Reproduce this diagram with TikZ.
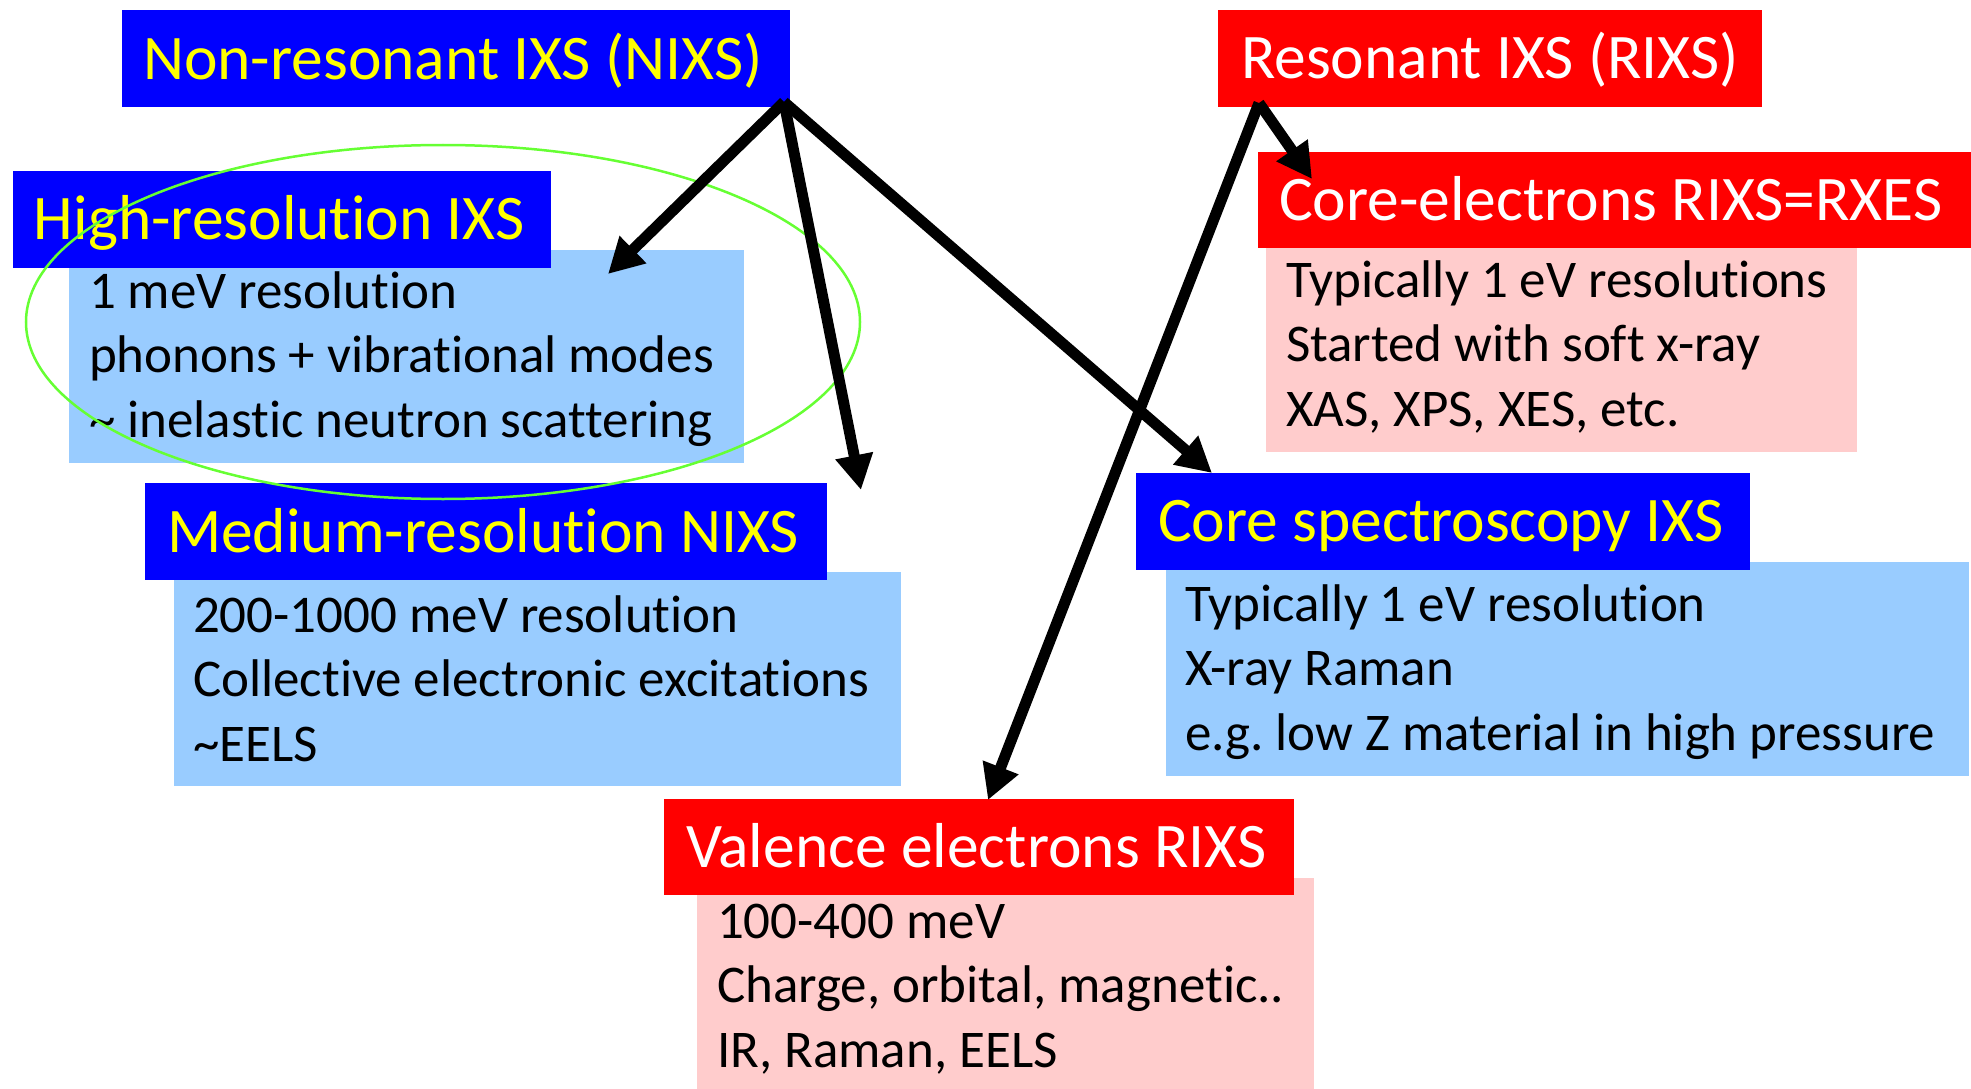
\documentclass[tikz,border=0pt]{standalone}
\usepackage{fontspec}
\setmainfont{Carlito}[Ligatures=NoCommon]
\frenchspacing
\usetikzlibrary{arrows.meta,calc,shapes.geometric}
\definecolor{hdrblue}{RGB}{0,0,255}
\definecolor{hdrred}{RGB}{255,0,0}
\definecolor{hdryellow}{RGB}{255,255,0}
\definecolor{bodyblue}{RGB}{153,204,255}
\definecolor{bodypink}{RGB}{255,204,204}
\definecolor{ringgreen}{RGB}{102,255,51}
% use the font's own interword space inside the panel texts
\newcommand{\natspace}{\spaceskip=0pt\xspaceskip=0pt\relax}
\begin{document}
\begin{tikzpicture}[x=1pt,y=-1pt,
  box/.style={anchor=north west, inner sep=0pt, outer sep=0pt, draw=none},
  nixsbox/.style={box, fill=hdrblue},
  rixsbox/.style={box, fill=hdrred},
  nbody/.style={box, fill=bodyblue},
  rbody/.style={box, fill=bodypink},
  hdrtext/.style={anchor=base west, inner sep=0pt, outer sep=0pt,
    font=\fontsize{63.5}{76}\selectfont},
  ntext/.style={hdrtext, text=hdryellow},
  rtext/.style={hdrtext, text=white},
  bodytext/.style={anchor=base west, inner sep=0pt, outer sep=0pt,
    text width=820pt, font=\fontsize{53}{64.5}\selectfont},
  bigarrow/.style={line width=11pt, -{Triangle[length=35pt,width=36pt]}},
  ring/.style={draw=ringgreen, line width=2.5pt, ellipse, inner sep=0pt}
]
\useasboundingbox (0,0) rectangle (1971,1089);

% body panels (drawn first so the headers overlap them)
\node[nbody, minimum width=675pt, minimum height=213pt] (hrB) at (69,250) {};
\node[nbody, minimum width=727pt, minimum height=214pt] (mB) at (174,572) {};
\node[rbody, minimum width=591pt, minimum height=204pt] (ceB) at (1266,248) {};
\node[nbody, minimum width=803pt, minimum height=214pt] (csB) at (1166,562) {};
\node[rbody, minimum width=617pt, minimum height=211pt] (vB) at (697,878) {};

% header bars
\node[nixsbox, minimum width=668pt, minimum height=97pt] (nixs) at (122,10) {};
\node[rixsbox, minimum width=544pt, minimum height=97pt] (rixs) at (1218,10) {};
\node[nixsbox, minimum width=538pt, minimum height=97pt] (hrH) at (13,171) {};
\node[nixsbox, minimum width=682pt, minimum height=97pt] (mH) at (145,483) {};
\node[rixsbox, minimum width=713pt, minimum height=96pt] (ceH) at (1258,152) {};
\node[nixsbox, minimum width=614pt, minimum height=97pt] (csH) at (1136,473) {};
\node[rixsbox, minimum width=630pt, minimum height=96pt] (vH) at (664,799) {};

% header titles
\node[ntext] (nixsT) at (143,80) {Non-resonant IXS (NIXS)};
\node[rtext] (rixsT) at (1241,79) {Resonant IXS (RIXS)};
\node[ntext] (hrT) at (34,239) {High-resolution IXS};
\node[ntext] (mT) at (167,552) {Medium-resolution NIXS};
\node[rtext] (ceT) at (1279,220) {Core-electrons RIXS=RXES};
\node[ntext] (csT) at (1158,541) {Core spectroscopy IXS};
\node[rtext] (vT) at (686,867) {Valence electrons RIXS};

% panel texts
\node[bodytext] (hrL) at (89,308) {\natspace 1 meV resolution\\phonons + vibrational modes\\\textasciitilde{} inelastic neutron scattering};
\node[bodytext] (mL) at (193,632) {\natspace 200-1000 meV resolution\\Collective electronic excitations\\\textasciitilde{}EELS};
\node[bodytext] (ceL) at (1286,297) {\natspace Typically 1 eV resolutions\\Started with soft x-ray\\XAS, XPS, XES, etc.};
\node[bodytext] (csL) at (1185,621) {\natspace Typically 1 eV resolution\\X-ray Raman\\e.g. low Z material in high pressure};
\node[bodytext] (vL) at (717,938) {\natspace 100-400 meV\\Charge, orbital, magnetic..\\IR, Raman, EELS};

% highlight ring around the high-resolution panel
\node[ring, minimum width=834pt, minimum height=354pt] (hrRing) at (443,322) {};

% arrow end points
\coordinate (nixsout) at ($(nixs.south east)+(-6,-5)$);
\coordinate (hrtip) at ($(hrB.north west)+(539,24)$);
\coordinate (mtip) at ($(mH.north east)+(34,7)$);
\coordinate (cstip) at ($(csH.north west)+(76,0)$);
\coordinate (rixsout) at ($(rixs.south west)+(41,-4)$);
\coordinate (cetip) at ($(ceH.north west)+(54,27)$);
\coordinate (vtip) at ($(vH.north west)+(324,1)$);

% arrows
\draw[bigarrow] (nixsout) -- (hrtip);
\draw[bigarrow] (nixsout) -- (mtip);
\draw[bigarrow] (nixsout) -- (cstip);
\draw[bigarrow] (rixsout) -- (cetip);
\draw[bigarrow] (rixsout) -- (vtip);
\end{tikzpicture}
\end{document}
